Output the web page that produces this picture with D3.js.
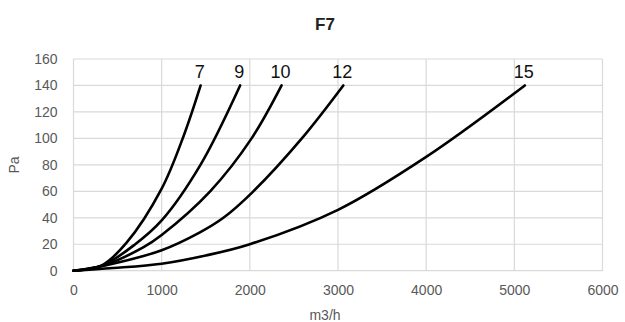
<!DOCTYPE html>
<html><head><meta charset="utf-8">
<script src="https://cdn.jsdelivr.net/npm/d3@7"></script>
<style>
html,body{margin:0;padding:0;background:#fff;}
svg text{font-family:"Liberation Sans",Arial,sans-serif;}
</style></head>
<body><svg id="c" width="625" height="322"></svg>
<script>
const title = "F7";
const xLabel = "m3/h";
const yLabel = "Pa";
const xTicks = [0,1000,2000,3000,4000,5000,6000];
const yTicks = [0,20,40,60,80,100,120,140,160];
const seriesNames = ["7","9","10","12","15"];
// [flow m3/h, pressure Pa]
const s7  = [[0,0],[320,4],[600,21],[1000,62],[1250,102],[1442,140]];
const s9  = [[0,0],[330,4],[700,20],[1000,38],[1440,80],[1890,140]];
const s10 = [[0,0],[340,4],[800,18],[1000,27],[1550,60],[2020,100],[2360,140]];
const s12 = [[0,0],[360,4],[1000,15.5],[1434,29],[1700,40],[2040,60],[2590,100],[3060,140]];
const s15 = [[0,0],[450,2],[1000,5.3],[1500,11.5],[2000,20],[3000,46],[4000,86],[5119,140]];
const allSeries = [s7,s9,s10,s12,s15];

const svg = d3.select("#c");
const L=73.5, R=602.5, T=59, B=270.7;
const x = d3.scaleLinear().domain([0,6000]).range([L,R]);
const y = d3.scaleLinear().domain([0,160]).range([B,T]);

// gridlines
const g = svg.append("g");
g.selectAll("line.h").data(yTicks).join("line")
  .attr("x1",L).attr("x2",R).attr("y1",d=>y(d)).attr("y2",d=>y(d))
  .attr("stroke","#d9d9d9").attr("stroke-width",1.2);
g.selectAll("line.v").data(xTicks).join("line")
  .attr("y1",T).attr("y2",B).attr("x1",d=>x(d)).attr("x2",d=>x(d))
  .attr("stroke","#d9d9d9").attr("stroke-width",1.2);

// axes labels via d3 axes
const xa = svg.append("g").attr("transform",`translate(0,${B})`)
  .call(d3.axisBottom(x).tickValues(xTicks).tickSize(0).tickPadding(14).tickFormat(d3.format("d")));
const ya = svg.append("g").attr("transform",`translate(${L},0)`)
  .call(d3.axisLeft(y).tickValues(yTicks).tickSize(0).tickPadding(16).tickFormat(d3.format("d")));
[xa,ya].forEach(a=>{a.select(".domain").remove();
  a.selectAll("text").attr("fill","#595959").style("font-size","14px");});

// curves
const line = d3.line().x(d=>x(d[0])).y(d=>y(d[1])).curve(d3.curveCatmullRom.alpha(0.5));
svg.append("g").selectAll("path").data(allSeries).join("path")
  .attr("d",line).attr("fill","none").attr("stroke","#000").attr("stroke-width",2.6)
  .attr("stroke-linecap","round");

// curve labels
svg.append("g").selectAll("text").data(allSeries).join("text")
  .attr("x",(d)=>x(d[d.length-1][0])-1)
  .attr("y",(d)=>y(d[d.length-1][1])-7)
  .attr("text-anchor","middle").attr("fill","#111").style("font-size","18px")
  .text((d,i)=>seriesNames[i]);

// title
svg.append("text").attr("x",325).attr("y",29.5).attr("text-anchor","middle")
  .style("font-size","17px").style("font-weight","bold").attr("fill","#222").text(title);
svg.append("text").attr("x",325).attr("y",320).attr("text-anchor","middle")
  .style("font-size","14px").attr("fill","#595959").text(xLabel);
svg.append("text").attr("transform","translate(19,165) rotate(-90)").attr("text-anchor","middle")
  .style("font-size","14px").attr("fill","#595959").text(yLabel);
</script></body></html>
